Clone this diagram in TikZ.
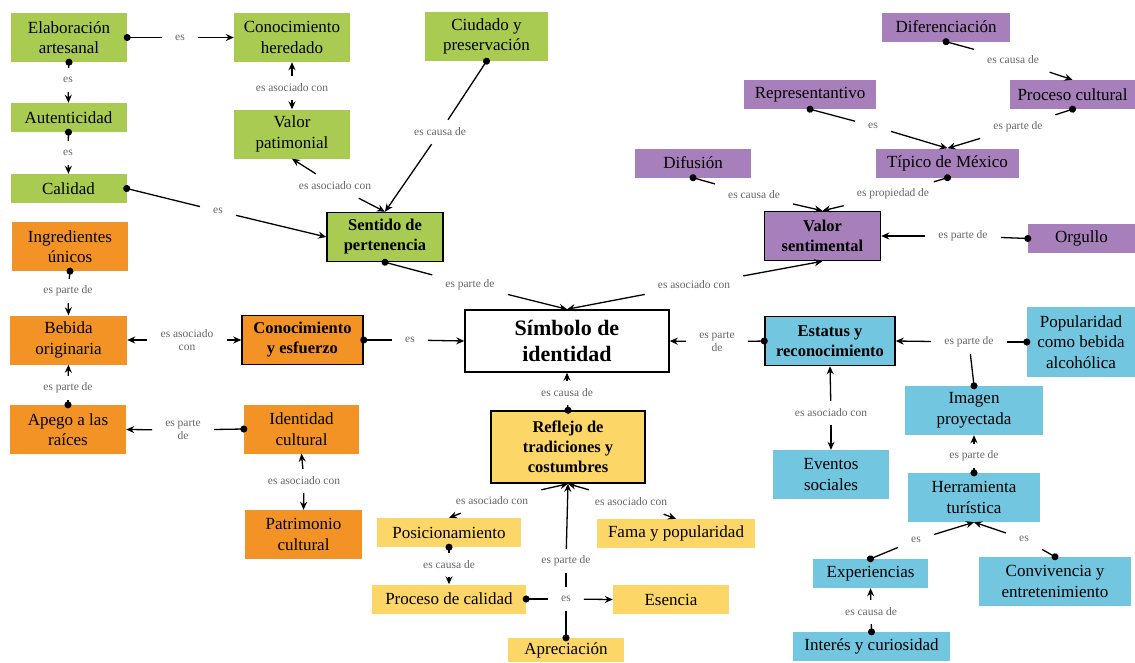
\documentclass[tikz,border=0pt]{standalone}
\usepackage{fontspec}
\setmainfont{Liberation Serif}
\usepackage{tikz}
\usetikzlibrary{arrows.meta}
\definecolor{mapgreen}{RGB}{169,203,82}
\definecolor{maporange}{RGB}{243,147,37}
\definecolor{mappurple}{RGB}{167,128,187}
\definecolor{mapcyan}{RGB}{115,198,224}
\definecolor{mapyellow}{RGB}{253,214,104}

\begin{document}
\begin{tikzpicture}[x=1pt,y=-1pt,
        every node/.style={align=center},
        box/.style={inner sep=2pt,minimum width=116pt,minimum height=29pt,
                    font=\fontsize{17}{20.5}\selectfont},
        tall/.style={minimum height=49pt},
        key/.style={box,draw=black,line width=1.5pt,
                    font=\fontsize{16.5}{20}\selectfont\bfseries},
        phrase/.style={font=\fontsize{11.5}{13}\selectfont,text=black!60,
                    inner xsep=13pt,inner ysep=3pt,minimum height=24pt},
        dot/.style={{Circle[length=7pt]}-,line width=1.3pt,shorten <=-3.5pt},
        arrow/.style={-{Stealth[length=8pt,width=7pt]},line width=1.3pt}
    ]
        \useasboundingbox (0,0) rectangle (1135,662);

        \node[box,tall,fill=mapgreen] (elab) at (69,37.5) {Elaboración\\artesanal};
        \node[box,tall,fill=mapgreen] (conoc) at (292,37.5) {Conocimiento\\heredado};
        \node[box,fill=mapgreen] (aut) at (68.5,117.5) {Autenticidad};
        \node[box,fill=mapgreen] (cal) at (68.5,188.5) {Calidad};
        \node[box,tall,fill=mapgreen] (valpat) at (292,134) {Valor\\patimonial};
        \node[box,tall,fill=mapgreen,minimum width=123pt] (ciud) at (486.5,36.5) {Ciudado y\\preservación};
        \node[key,tall,fill=mapgreen] (sent) at (385,237) {Sentido de\\pertenencia};

        \node[box,fill=mappurple,minimum width=128pt] (difer) at (946,27) {Diferenciación};
        \node[box,fill=mappurple,minimum width=132pt] (repr) at (810,94.5) {Representantivo};
        \node[box,fill=mappurple,minimum width=125pt] (proc) at (1072.5,94.5) {Proceso cultural};
        \node[box,fill=mappurple] (dif) at (693,163) {Difusión};
        \node[box,fill=mappurple,minimum width=143pt] (tip) at (947.5,163) {Típico de México};
        \node[key,tall,fill=mappurple] (valsent) at (822.5,236) {Valor\\sentimental};
        \node[box,fill=mappurple,minimum width=107pt] (org) at (1081.5,238.5) {Orgullo};

        \node[box,tall,fill=maporange] (ingr) at (70,246.5) {Ingredientes\\únicos};
        \node[box,tall,fill=maporange,minimum width=117pt] (beb) at (68.5,340) {Bebida\\originaria};
        \node[key,tall,fill=maporange,minimum width=121pt] (cye) at (302.5,340) {Conocimiento\\y esfuerzo};
        \node[box,tall,fill=maporange] (apego) at (68,429.5) {Apego a las\\raíces};
        \node[box,tall,fill=maporange,minimum width=115pt] (iden) at (301.5,429) {Identidad\\cultural};
        \node[box,tall,fill=maporange,minimum width=117pt] (patr) at (303.5,534.5) {Patrimonio\\cultural};

        \node[draw=black,line width=1.5pt,fill=white,minimum width=204pt,minimum height=62pt,
              font=\fontsize{22}{26}\selectfont\bfseries] (sim) at (567,341) {Símbolo de\\identidad};

        \node[key,fill=mapyellow,minimum width=154pt,minimum height=72pt] (refl) at (568,447) {Reflejo de\\tradiciones y\\costumbres};
        \node[box,fill=mapyellow,minimum width=144pt] (posic) at (449,532.5) {Posicionamiento};
        \node[box,fill=mapyellow,minimum width=158pt] (fama) at (676,533.5) {Fama y popularidad};
        \node[box,fill=mapyellow,minimum width=154pt] (procal) at (449,599) {Proceso de calidad};
        \node[box,fill=mapyellow] (esen) at (671,599.5) {Esencia};
        \node[box,fill=mapyellow,minimum height=24pt] (apre) at (566,650) {Apreciación};

        \node[key,tall,fill=mapcyan,minimum width=130pt] (est) at (830,341) {Estatus y\\reconocimiento};
        \node[box,fill=mapcyan,minimum width=108pt,minimum height=70pt] (pop) at (1081,342) {Popularidad\\como bebida\\alcohólica};
        \node[box,tall,fill=mapcyan,minimum width=138pt] (imag) at (974,410.5) {Imagen\\proyectada};
        \node[box,tall,fill=mapcyan] (evt) at (831,474.5) {Eventos\\sociales};
        \node[box,tall,fill=mapcyan,minimum width=132pt] (herr) at (974,497.5) {Herramienta\\turística};
        \node[box,fill=mapcyan,minimum width=115pt] (exp) at (870.5,573.5) {Experiencias};
        \node[box,tall,fill=mapcyan,minimum width=152pt] (conv) at (1055,581.5) {Convivencia y\\entretenimiento};
        \node[box,fill=mapcyan,minimum width=157pt] (inter) at (871.5,646.5) {Interés y curiosidad};

        \node[phrase] (l1) at (180,37.5) {es};
        \node[phrase] (l2) at (68,80) {es};
        \node[phrase] (l3) at (68,153) {es};
        \node[phrase] (l4) at (218,211) {es};
        \node[phrase] (l5) at (292,88) {es asociado con};
        \node[phrase] (l6) at (335,186) {es asociado con};
        \node[phrase] (l7) at (440,132) {es causa de};
        \node[phrase] (l8) at (470,285) {es parte de};
        \node[phrase] (l9) at (694,285) {es asociado con};
        \node[phrase] (l10) at (754,195) {es causa de};
        \node[phrase] (l11) at (893,194) {es propiedad de};
        \node[phrase] (l12) at (963,236) {es parte de};
        \node[phrase] (l13) at (1013,60) {es causa de};
        \node[phrase] (l14) at (873,126) {es};
        \node[phrase] (l15) at (1018,127) {es parte de};
        \node[phrase] (l16) at (68,291) {es parte de};
        \node[phrase] (l17) at (68,388) {es parte de};
        \node[phrase] (l18) at (187,340) {es asociado\\con};
        \node[phrase] (l19) at (410,340) {es};
        \node[phrase] (l20) at (183,430) {es parte\\de};
        \node[phrase] (l21) at (304,481) {es asociado con};
        \node[phrase] (l22) at (567,393) {es causa de};
        \node[phrase] (l23) at (717,342) {es parte\\de};
        \node[phrase] (l24) at (969,342) {es parte de};
        \node[phrase] (l25) at (831,413) {es asociado con};
        \node[phrase] (l26) at (492,501) {es asociado con};
        \node[phrase] (l27) at (631,502) {es asociado con};
        \node[phrase] (l28) at (566,561) {es parte de};
        \node[phrase] (l30) at (449,565) {es causa de};
        \node[phrase] (l31) at (974,456) {es parte de};
        \node[phrase] (l32) at (916,540) {es};
        \node[phrase] (l33) at (1024,539) {es};
        \node[phrase] (l34) at (871,612) {es causa de};

        \draw[dot] (apre.north) -- (l28);
        \node[phrase,fill=white] (l29) at (566,599) {es};

        \draw[dot] (elab.east) -- (l1);
        \draw[arrow] (l1) -- (conoc.west);
        \draw[dot] (elab.south) -- (l2);
        \draw[arrow] (l2) -- (aut.north);
        \draw[dot] (aut.south) -- (l3);
        \draw[arrow] (l3) -- (cal.north);
        \draw[dot] (cal.east) -- (l4);
        \draw[arrow] (l4) -- (sent.west);
        \draw[arrow] (l5) -- (conoc.south);
        \draw[arrow] (l5) -- (valpat.north);
        \draw[arrow] (l6) -- (valpat.south);
        \draw[arrow] (l6) -- (sent.north);
        \draw[dot] (ciud.south) -- (l7);
        \draw[arrow] (l7) -- (sent.north);
        \draw[dot] (sent.south) -- (l8);
        \draw[arrow] (l8) -- (sim.north);
        \draw[arrow] (l9) -- (sim.north);
        \draw[arrow] (l9) -- (valsent.south);

        \draw[dot] (dif.south) -- (l10);
        \draw[arrow] (l10) -- (valsent.north);
        \draw[dot] (tip.south) -- (l11);
        \draw[arrow] (l11) -- (valsent.north);
        \draw[dot] (org.west) -- (l12);
        \draw[arrow] (l12) -- (valsent.east);
        \draw[dot] (difer.south) -- (l13);
        \draw[arrow] (l13) -- (proc.north);
        \draw[dot] (repr.south) -- (l14);
        \draw[arrow] (l14) -- (tip.north);
        \draw[dot] (proc.south) -- (l15);
        \draw[arrow] (l15) -- (tip.north);

        \draw[dot] (ingr.south) -- (l16);
        \draw[arrow] (l16) -- (beb.north);
        \draw[dot] (apego.north) -- (l17);
        \draw[arrow] (l17) -- (beb.south);
        \draw[arrow] (l18) -- (beb.east);
        \draw[arrow] (l18) -- (cye.west);
        \draw[dot] (cye.east) -- (l19);
        \draw[arrow] (l19) -- (sim.west);
        \draw[dot] (iden.west) -- (l20);
        \draw[arrow] (l20) -- (apego.east);
        \draw[arrow] (l21) -- (iden.south);
        \draw[arrow] (l21) -- (patr.north);

        \draw[dot] (refl.north) -- (l22);
        \draw[arrow] (l22) -- (sim.south);
        \draw[arrow] (l26) -- (posic.north);
        \draw[arrow] (l26) -- (refl.south);
        \draw[arrow] (l27) -- (fama.north);
        \draw[arrow] (l27) -- (refl.south);
        \draw[arrow] (l28) -- (refl.south);
        \draw[dot] (procal.east) -- (l29);
        \draw[arrow] (l29) -- (esen.west);
        \draw[dot] (posic.south) -- (l30);
        \draw[arrow] (l30) -- (procal.north);

        \draw[dot] (est.west) -- (l23);
        \draw[arrow] (l23) -- (sim.east);
        \draw[dot] (pop.west) -- (l24);
        \draw[dot] (imag.north) -- (l24);
        \draw[arrow] (l24) -- (est.east);
        \draw[arrow] (l25) -- (est.south);
        \draw[arrow] (l25) -- (evt.north);
        \draw[dot] (herr.north) -- (l31);
        \draw[arrow] (l31) -- (imag.south);
        \draw[dot] (exp.north) -- (l32);
        \draw[arrow] (l32) -- (herr.south);
        \draw[dot] (conv.north) -- (l33);
        \draw[arrow] (l33) -- (herr.south);
        \draw[dot] (inter.north) -- (l34);
        \draw[arrow] (l34) -- (exp.south);
    \end{tikzpicture}
\end{document}
